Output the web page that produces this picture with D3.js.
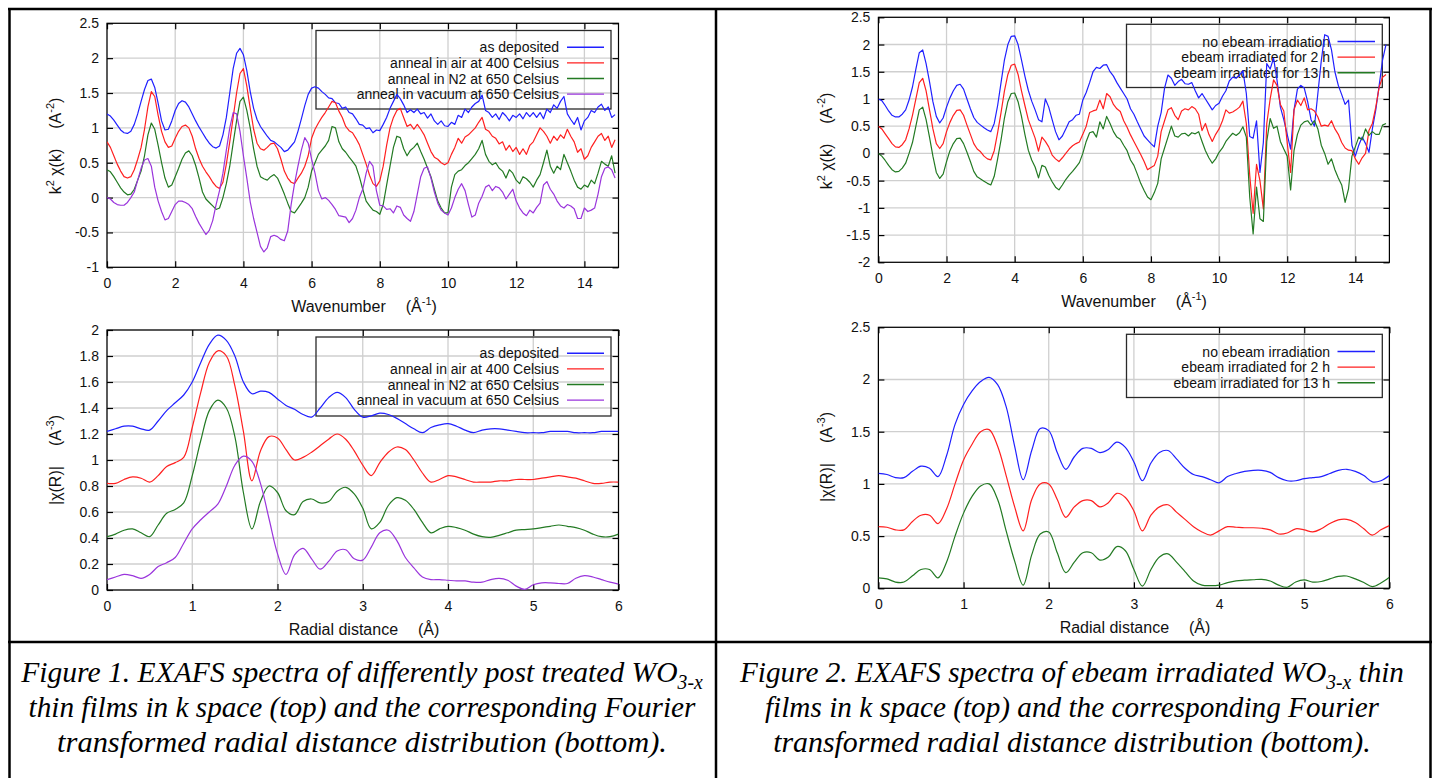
<!DOCTYPE html>
<html>
<head>
<meta charset="utf-8">
<script src="https://cdn.jsdelivr.net/npm/d3@7"></script>
<style>
  body { margin: 0; background: #fff; }
  svg { display: block; }
  text { font-family: "Liberation Sans", Arial, sans-serif; fill: #111; }
  .caption { font-family: "Liberation Serif", "Times New Roman", serif; font-style: italic; fill: #000; }
</style>
</head>
<body>
<svg id="chart" width="1440" height="778"></svg>
<script>
// sample spacing of the spectra
const kStep = 0.1;
const rStep = 0.1;

// Figure 1, k space (k = 0 .. 14.9)
const kAsDeposited = [
  1.20, 1.17, 1.11, 1.04, 0.97, 0.93, 0.92, 0.95, 1.05, 1.20,
  1.38, 1.55, 1.68, 1.70, 1.58, 1.35, 1.10, 0.97, 0.98, 1.10,
  1.25, 1.35, 1.39, 1.37, 1.30, 1.20, 1.10, 1.01, 0.93, 0.85,
  0.78, 0.73, 0.71, 0.74, 0.90, 1.15, 1.50, 1.85, 2.07, 2.14,
  2.05, 1.82, 1.52, 1.28, 1.12, 1.02, 0.95, 0.88, 0.82, 0.80,
  0.76, 0.72, 0.66, 0.68, 0.74, 0.80, 0.95, 1.13, 1.32, 1.48,
  1.57, 1.59, 1.57, 1.52, 1.48, 1.43, 1.42, 1.36, 1.35, 1.28,
  1.30, 1.22, 1.20, 1.13, 1.05, 1.04, 0.99, 1.00, 0.93, 0.97,
  0.96, 1.05, 1.15, 1.28, 1.38, 1.48, 1.42, 1.33, 1.22, 1.26,
  1.22, 1.27, 1.20, 1.22, 1.14, 1.20, 1.10, 1.05, 1.10, 1.03,
  1.02, 1.08, 1.05, 1.18, 1.15, 1.27, 1.22, 1.30, 1.35, 1.38,
  1.47, 1.25, 1.22, 1.15, 1.20, 1.12, 1.22, 1.17, 1.10, 1.18,
  1.15, 1.20, 1.13, 1.22, 1.16, 1.22, 1.15, 1.22, 1.13, 1.27,
  1.22, 1.33, 1.28, 1.38, 1.45, 1.20, 1.12, 1.05, 1.15, 0.97,
  1.10, 1.15, 1.25, 1.22, 1.30, 1.34, 1.25, 1.30, 1.15, 1.19
];
const kAirAnneal = [
  0.80, 0.72, 0.60, 0.48, 0.38, 0.30, 0.28, 0.30, 0.40, 0.55,
  0.72, 0.98, 1.30, 1.52, 1.45, 1.18, 0.95, 0.80, 0.72, 0.74,
  0.85, 0.95, 1.02, 1.04, 1.00, 0.88, 0.70, 0.56, 0.45, 0.37,
  0.30, 0.22, 0.16, 0.13, 0.22, 0.48, 0.80, 1.15, 1.50, 1.78,
  1.85, 1.60, 1.28, 0.98, 0.78, 0.70, 0.68, 0.72, 0.77, 0.78,
  0.70, 0.55, 0.38, 0.28, 0.22, 0.20, 0.28, 0.35, 0.45, 0.60,
  0.85, 0.98, 1.07, 1.15, 1.22, 1.30, 1.38, 1.36, 1.24, 1.15,
  1.02, 0.96, 0.93, 0.85, 0.76, 0.62, 0.48, 0.32, 0.20, 0.16,
  0.24, 0.45, 0.75, 1.00, 1.15, 1.25, 1.28, 1.15, 1.02, 1.05,
  0.98, 1.05, 0.98, 0.90, 0.78, 0.66, 0.58, 0.55, 0.50, 0.47,
  0.50, 0.62, 0.72, 0.85, 0.78, 0.87, 0.90, 0.95, 1.00, 1.08,
  1.15, 0.98, 0.95, 0.88, 0.85, 0.77, 0.80, 0.68, 0.75, 0.66,
  0.72, 0.62, 0.70, 0.62, 0.75, 0.80, 0.90, 1.00, 0.95, 0.88,
  0.78, 0.88, 0.82, 0.90, 0.85, 0.98, 0.88, 0.80, 0.65, 0.70,
  0.55, 0.60, 0.72, 0.80, 0.88, 0.92, 0.82, 0.88, 0.72, 0.83
];
const kN2Anneal = [
  0.40, 0.37, 0.30, 0.22, 0.14, 0.08, 0.04, 0.05, 0.12, 0.25,
  0.38, 0.60, 0.90, 1.07, 0.98, 0.75, 0.50, 0.28, 0.15, 0.18,
  0.30, 0.42, 0.55, 0.64, 0.67, 0.60, 0.46, 0.28, 0.08, -0.02,
  -0.07, -0.12, -0.17, -0.15, 0.00, 0.20, 0.45, 0.78, 1.10, 1.38,
  1.44, 1.25, 1.00, 0.70, 0.45, 0.30, 0.27, 0.25, 0.30, 0.33,
  0.28, 0.17, 0.05, -0.08, -0.20, -0.22, -0.15, -0.08, 0.00, 0.15,
  0.38, 0.50, 0.62, 0.68, 0.74, 0.82, 1.02, 1.00, 0.80, 0.70,
  0.65, 0.58, 0.52, 0.45, 0.30, 0.12, -0.05, -0.12, -0.18, -0.20,
  -0.24, -0.10, 0.18, 0.45, 0.72, 0.88, 0.86, 0.70, 0.60, 0.68,
  0.72, 0.78, 0.66, 0.55, 0.42, 0.30, 0.12, -0.05, -0.15, -0.22,
  -0.22, 0.15, 0.33, 0.38, 0.40, 0.46, 0.50, 0.56, 0.62, 0.70,
  0.82, 0.62, 0.52, 0.47, 0.50, 0.42, 0.38, 0.28, 0.40, 0.35,
  0.25, 0.20, 0.30, 0.27, 0.22, 0.15, 0.25, 0.33, 0.50, 0.68,
  0.45, 0.35, 0.45, 0.40, 0.62, 0.50, 0.38, 0.25, 0.15, 0.12,
  0.18, 0.15, 0.25, 0.20, 0.35, 0.52, 0.48, 0.45, 0.60, 0.35
];
const kVacuumAnneal = [
  0.00, -0.02, -0.07, -0.10, -0.11, -0.11, -0.07, 0.00, 0.08, 0.25,
  0.42, 0.54, 0.56, 0.45, 0.15, -0.05, -0.20, -0.32, -0.30, -0.20,
  -0.10, -0.05, -0.05, -0.07, -0.10, -0.16, -0.27, -0.37, -0.45, -0.53,
  -0.47, -0.33, -0.10, 0.10, 0.35, 0.68, 1.00, 1.22, 1.20, 0.95,
  0.60, 0.28, -0.06, -0.30, -0.50, -0.70, -0.78, -0.72, -0.56, -0.54,
  -0.56, -0.60, -0.62, -0.48, -0.10, 0.20, 0.45, 0.68, 0.86, 0.78,
  0.55, 0.35, 0.10, -0.02, 0.00, -0.04, -0.10, -0.17, -0.26, -0.27,
  -0.28, -0.36, -0.30, -0.18, 0.00, 0.12, 0.35, 0.52, 0.45, 0.10,
  -0.11, -0.12, -0.17, -0.16, -0.22, -0.12, -0.14, -0.25, -0.30, -0.34,
  -0.20, 0.05, 0.30, 0.42, 0.44, 0.28, 0.08, -0.08, -0.18, -0.22,
  -0.25, -0.15, 0.00, 0.12, 0.20, 0.10, -0.10, -0.28, -0.25, -0.08,
  0.02, 0.15, 0.18, 0.10, 0.16, 0.14, 0.08, -0.02, 0.05, 0.12,
  -0.05, -0.15, -0.22, -0.26, -0.18, -0.22, -0.14, -0.08, 0.18, 0.23,
  0.12, 0.05, -0.05, -0.12, -0.15, -0.10, -0.12, -0.16, -0.30, -0.30,
  -0.15, -0.20, -0.18, -0.15, 0.05, 0.30, 0.42, 0.44, 0.40, 0.28
];

// Figure 2, k space (k = 0 .. 14.9)
const kNoEbeam = [
  1.00, 0.97, 0.88, 0.78, 0.70, 0.67, 0.67, 0.72, 0.80, 0.98,
  1.22, 1.55, 1.85, 1.90, 1.65, 1.32, 0.95, 0.68, 0.56, 0.65,
  0.85, 1.02, 1.15, 1.25, 1.27, 1.18, 1.00, 0.82, 0.66, 0.57,
  0.52, 0.47, 0.43, 0.40, 0.55, 0.88, 1.30, 1.72, 2.00, 2.15,
  2.16, 2.00, 1.72, 1.42, 1.16, 0.96, 0.80, 0.62, 0.58, 1.00,
  0.85, 0.62, 0.40, 0.25, 0.32, 0.45, 0.58, 0.62, 0.70, 0.72,
  0.98, 1.12, 1.30, 1.50, 1.58, 1.56, 1.62, 1.63, 1.50, 1.42,
  1.30, 1.20, 1.10, 1.00, 0.82, 0.72, 0.58, 0.45, 0.32, 0.25,
  0.18, 0.12, 0.50, 0.75, 1.20, 1.44, 1.38, 1.25, 1.32, 1.36,
  1.28, 1.27, 1.30, 1.15, 1.02, 1.10, 1.00, 0.90, 0.80, 0.88,
  0.92, 1.05, 1.15, 1.33, 1.40, 1.38, 1.44, 1.52, 1.10, 0.31,
  0.28, 0.60, -0.35, 0.20, 1.65, 1.55, 1.75, 1.35, 0.85, 0.62,
  0.35, 0.08, 0.80, 1.18, 1.25, 1.20, 0.95, 0.62, 0.50, 1.10,
  1.70, 2.18, 2.15, 1.90, 1.50, 1.25, 1.08, 0.90, 0.98, 0.15,
  -0.05, 0.15, 0.30, 0.18, 0.02, 0.45, 0.80, 1.25, 1.72, 2.00
];
const kEbeam2h = [
  0.50, 0.45, 0.36, 0.27, 0.18, 0.12, 0.11, 0.16, 0.25, 0.45,
  0.70, 1.00, 1.30, 1.38, 1.15, 0.80, 0.45, 0.18, 0.09, 0.18,
  0.40, 0.57, 0.70, 0.79, 0.80, 0.70, 0.52, 0.35, 0.18, 0.08,
  0.03, -0.05, -0.10, -0.12, 0.05, 0.38, 0.75, 1.15, 1.45, 1.62,
  1.64, 1.45, 1.15, 0.88, 0.62, 0.45, 0.28, 0.04, 0.30, 0.22,
  0.12, -0.03, -0.10, -0.15, -0.08, 0.00, 0.08, 0.14, 0.18, 0.21,
  0.35, 0.50, 0.75, 0.78, 0.80, 0.98, 0.82, 1.10, 1.04, 0.90,
  0.82, 0.77, 0.60, 0.48, 0.34, 0.22, 0.10, -0.02, -0.15, -0.30,
  -0.26, -0.22, -0.05, 0.40, 0.60, 0.80, 0.84, 0.70, 0.62, 0.78,
  0.82, 0.80, 0.86, 0.82, 0.72, 0.42, 0.55, 0.35, 0.22, 0.35,
  0.45, 0.60, 0.80, 0.74, 0.76, 0.80, 0.85, 0.96, 0.55, -0.40,
  -1.10, -0.20, -0.50, -1.02, 0.55, 1.00, 1.35, 1.25, 0.90, 0.78,
  0.20, -0.35, 0.80, 0.98, 0.88, 1.02, 0.80, 0.82, 0.78, 0.67,
  0.50, 0.52, 0.50, 0.60, 0.45, 0.35, 0.20, 0.10, 0.06, 0.05,
  -0.10, -0.20, -0.08, 0.00, 0.42, 0.55, 0.85, 1.22, 1.40, 1.45
];
const kEbeam13h = [
  0.00, -0.05, -0.13, -0.22, -0.30, -0.34, -0.33, -0.27, -0.18, 0.00,
  0.20, 0.50, 0.80, 0.85, 0.62, 0.30, -0.05, -0.35, -0.46, -0.38,
  -0.15, 0.05, 0.18, 0.27, 0.28, 0.18, 0.02, -0.15, -0.33, -0.43,
  -0.47, -0.51, -0.55, -0.58, -0.42, -0.10, 0.25, 0.65, 0.95, 1.10,
  1.11, 0.95, 0.68, 0.35, 0.06, -0.12, -0.25, -0.45, -0.22, -0.25,
  -0.40, -0.52, -0.62, -0.67, -0.58, -0.48, -0.40, -0.33, -0.25, -0.17,
  0.00, 0.22, 0.38, 0.40, 0.30, 0.58, 0.45, 0.68, 0.55, 0.40,
  0.30, 0.26, 0.15, 0.05, -0.12, -0.22, -0.38, -0.55, -0.68, -0.80,
  -0.85, -0.72, -0.55, -0.10, 0.10, 0.30, 0.50, 0.32, 0.30, 0.36,
  0.37, 0.32, 0.38, 0.36, 0.40, 0.22, 0.05, -0.08, -0.18, -0.10,
  0.02, 0.10, 0.22, 0.30, 0.37, 0.33, 0.38, 0.49, 0.30, -0.80,
  -1.48, -0.62, -1.20, -1.25, 0.22, 0.64, 0.46, 0.50, 0.22, 0.08,
  -0.05, -0.67, 0.05, 0.35, 0.52, 0.58, 0.60, 0.52, 0.60, 0.45,
  0.15, 0.00, -0.20, -0.10, -0.30, -0.45, -0.58, -0.90, -0.65, -0.05,
  0.12, 0.30, 0.25, 0.45, 0.33, 0.40, 0.35, 0.35, 0.52, 0.55
];

// Figure 1, R space (R = 0 .. 6)
const rAsDeposited = [
  1.22, 1.24, 1.26, 1.26, 1.24, 1.23, 1.30, 1.38, 1.44, 1.50,
  1.60, 1.75, 1.89, 1.96, 1.92, 1.80, 1.60, 1.51, 1.53, 1.52,
  1.47, 1.42, 1.39, 1.35, 1.33, 1.40, 1.48, 1.52, 1.48, 1.39,
  1.33, 1.34, 1.36, 1.35, 1.32, 1.28, 1.24, 1.21, 1.25, 1.27,
  1.28, 1.26, 1.23, 1.21, 1.23, 1.24, 1.24, 1.23, 1.22, 1.21,
  1.21, 1.21, 1.22, 1.22, 1.22, 1.21, 1.21, 1.21, 1.22, 1.22,
  1.22
];
const rAirAnneal = [
  0.82, 0.82, 0.85, 0.87, 0.86, 0.83, 0.88, 0.95, 0.98, 1.02,
  1.25, 1.52, 1.75, 1.84, 1.80, 1.57, 1.22, 0.84, 1.07, 1.18,
  1.17, 1.08, 1.00, 1.02, 1.06, 1.11, 1.16, 1.20, 1.16, 1.07,
  0.96, 0.88, 0.98, 1.06, 1.10, 1.08, 1.00, 0.90, 0.83, 0.85,
  0.88, 0.87, 0.85, 0.83, 0.83, 0.83, 0.84, 0.84, 0.85, 0.85,
  0.85, 0.86, 0.87, 0.88, 0.87, 0.86, 0.84, 0.82, 0.82, 0.83,
  0.83
];
const rN2Anneal = [
  0.41, 0.43, 0.46, 0.47, 0.44, 0.41, 0.50, 0.59, 0.62, 0.67,
  0.88, 1.15, 1.38, 1.46, 1.40, 1.18, 0.75, 0.47, 0.68, 0.80,
  0.75, 0.61, 0.58, 0.68, 0.70, 0.67, 0.68, 0.76, 0.79, 0.74,
  0.63, 0.47, 0.52, 0.65, 0.71, 0.69, 0.62, 0.52, 0.44, 0.47,
  0.49, 0.48, 0.46, 0.43, 0.41, 0.405, 0.42, 0.44, 0.46, 0.465,
  0.47, 0.48, 0.49, 0.50, 0.49, 0.48, 0.46, 0.43, 0.41, 0.41,
  0.43
];
const rVacuumAnneal = [
  0.08, 0.10, 0.12, 0.11, 0.09, 0.12, 0.18, 0.21, 0.25, 0.36,
  0.47, 0.54, 0.60, 0.66, 0.80, 0.96, 1.03, 0.99, 0.82, 0.55,
  0.28, 0.12, 0.27, 0.32, 0.24, 0.16, 0.22, 0.30, 0.31, 0.24,
  0.23, 0.33, 0.44, 0.46, 0.38, 0.25, 0.17, 0.10, 0.08, 0.08,
  0.075, 0.07, 0.07, 0.06, 0.06, 0.08, 0.09, 0.075, 0.03, 0.005,
  0.04, 0.055, 0.055, 0.05, 0.05, 0.09, 0.11, 0.10, 0.08, 0.06,
  0.045
];

// Figure 2, R space (R = 0 .. 6)
const rNoEbeam = [
  1.10, 1.09, 1.06, 1.06, 1.12, 1.17, 1.15, 1.07, 1.27, 1.57,
  1.76, 1.89, 1.98, 2.02, 1.95, 1.74, 1.36, 1.04, 1.32, 1.53,
  1.51, 1.30, 1.14, 1.26, 1.34, 1.34, 1.30, 1.33, 1.40, 1.35,
  1.21, 1.03, 1.20, 1.30, 1.32, 1.24, 1.15, 1.09, 1.07, 1.04,
  1.01, 1.07, 1.10, 1.12, 1.13, 1.13, 1.11, 1.06, 1.03, 1.03,
  1.05, 1.06, 1.07, 1.10, 1.13, 1.14, 1.12, 1.08, 1.02, 1.03,
  1.08
];
const rEbeam2h = [
  0.59, 0.585, 0.56, 0.56, 0.64, 0.70, 0.70, 0.62, 0.76, 1.00,
  1.23, 1.38, 1.50, 1.52, 1.36, 1.08, 0.78, 0.55, 0.85, 1.00,
  1.00, 0.85, 0.68, 0.78, 0.84, 0.84, 0.78, 0.82, 0.91, 0.87,
  0.74, 0.55, 0.70, 0.78, 0.80, 0.73, 0.66, 0.59, 0.54, 0.51,
  0.55, 0.59, 0.585, 0.58, 0.58, 0.575, 0.56, 0.52, 0.53, 0.57,
  0.56, 0.54, 0.57, 0.62, 0.655, 0.66, 0.63, 0.57, 0.51, 0.56,
  0.60
];
const rEbeam13h = [
  0.10, 0.09, 0.06, 0.06, 0.12, 0.18, 0.18, 0.10, 0.25, 0.50,
  0.72, 0.88, 0.98, 1.00, 0.85, 0.55, 0.26, 0.03, 0.32, 0.52,
  0.54, 0.34, 0.15, 0.25, 0.34, 0.34, 0.27, 0.30, 0.40, 0.36,
  0.18, 0.02, 0.18, 0.30, 0.33, 0.25, 0.16, 0.07, 0.03, 0.025,
  0.03, 0.055, 0.072, 0.078, 0.082, 0.086, 0.07, 0.03, 0.01, 0.06,
  0.08, 0.06, 0.065, 0.09, 0.115, 0.118, 0.09, 0.055, 0.016, 0.05,
  0.105
];

// ticks
const kTicks = [0, 2, 4, 6, 8, 10, 12, 14];
const rTicks = [0, 1, 2, 3, 4, 5, 6];
const kTicksFig1 = [-1, -0.5, 0, 0.5, 1, 1.5, 2, 2.5];
const rTicksFig1 = [0, 0.2, 0.4, 0.6, 0.8, 1, 1.2, 1.4, 1.6, 1.8, 2];
const kTicksFig2 = [-2, -1.5, -1, -0.5, 0, 0.5, 1, 1.5, 2, 2.5];
const rTicksFig2 = [0, 0.5, 1, 1.5, 2, 2.5];

// legends
const annealNames = ["as deposited", "anneal in air at 400 Celsius", "anneal in N2 at 650 Celsius", "anneal in vacuum at 650 Celsius"];
const ebeamNames = ["no ebeam irradiation", "ebeam irradiated for 2 h", "ebeam irradiated for 13 h"];
const annealColors = ["#2020ff", "#ff2020", "#237a23", "#9a35dc"];
const ebeamColors = ["#2020ff", "#ff2020", "#237a23"];

const fig1Caption = [
  "Figure 1. EXAFS spectra of differently post treated WO3-x",
  "thin films in k space (top) and the corresponding Fourier",
  "transformed radial distance distribution (bottom)."
];
const fig2Caption = [
  "Figure 2. EXAFS spectra of ebeam irradiated WO3-x thin",
  "films in k space (top) and the corresponding Fourier",
  "transformed radial distance distribution (bottom)."
];

const svg = d3.select("#chart");
svg.append("rect").attr("width", 1440).attr("height", 778).attr("fill", "#fff");

// rich text with sup parts: parts = [{t, sup, dx}]
function richText(sel, parts, supSize) {
  let shifted = false;
  parts.forEach(p => {
    const ts = sel.append("tspan").text(p.t);
    if (p.dx) ts.attr("dx", p.dx);
    if (p.sup) {
      ts.attr("dy", -7).style("font-size", supSize + "px");
      shifted = true;
    } else if (shifted) {
      ts.attr("dy", 7);
      shifted = false;
    }
  });
}

function drawPanel(p) {
  const g = svg.append("g");
  const x = d3.scaleLinear().domain(p.xDomain).range([p.left, p.right]);
  const y = d3.scaleLinear().domain(p.yDomain).range([p.bottom, p.top]);

  // grid
  g.append("g").selectAll("line").data(p.xTicks).join("line")
    .attr("x1", d => x(d)).attr("x2", d => x(d))
    .attr("y1", p.top).attr("y2", p.bottom)
    .attr("stroke", "#cfcfcf").attr("stroke-width", 1.3);
  g.append("g").selectAll("line").data(p.yTicks).join("line")
    .attr("y1", d => y(d)).attr("y2", d => y(d))
    .attr("x1", p.left).attr("x2", p.right)
    .attr("stroke", "#cfcfcf").attr("stroke-width", 1.3);

  // axes with inward ticks, mirrored on top/right
  const fmt = d => String(+d.toFixed(2));
  g.append("g").attr("transform", `translate(0,${p.bottom})`)
    .call(d3.axisBottom(x).tickValues(p.xTicks).tickFormat(fmt).tickSizeInner(-6).tickSizeOuter(0).tickPadding(11));
  g.append("g").attr("transform", `translate(${p.left},0)`)
    .call(d3.axisLeft(y).tickValues(p.yTicks).tickFormat(fmt).tickSizeInner(-6).tickSizeOuter(0).tickPadding(8));
  g.append("g").attr("transform", `translate(0,${p.top})`)
    .call(d3.axisTop(x).tickValues(p.xTicks).tickFormat("").tickSizeInner(-6).tickSizeOuter(0));
  g.append("g").attr("transform", `translate(${p.right},0)`)
    .call(d3.axisRight(y).tickValues(p.yTicks).tickFormat("").tickSizeInner(-6).tickSizeOuter(0));
  g.selectAll(".domain").remove();
  g.selectAll(".tick line").attr("stroke", "#000").attr("stroke-width", 1.2);
  g.selectAll(".tick text").style("font-size", "14px").attr("fill", "#111");

  // legend (under the curves)
  const L = p.legend;
  g.append("rect").attr("x", L.x1).attr("y", L.y1).attr("width", L.x2 - L.x1).attr("height", L.y2 - L.y1)
    .attr("fill", "none").attr("stroke", "#2a2a2a").attr("stroke-width", 1.3);
  p.names.forEach((name, i) => {
    const ry = L.rowY + i * L.rowGap;
    g.append("text").attr("x", L.textRight).attr("y", ry).attr("dy", "0.36em")
      .attr("text-anchor", "end").style("font-size", "14px").text(name);
    g.append("line").attr("x1", L.lineX1).attr("x2", L.lineX2).attr("y1", ry).attr("y2", ry)
      .attr("stroke", p.colors[i]).attr("stroke-width", 1.4);
  });

  // frame
  g.append("rect").attr("x", p.left).attr("y", p.top).attr("width", p.right - p.left).attr("height", p.bottom - p.top)
    .attr("fill", "none").attr("stroke", "#000").attr("stroke-width", 1.2);

  // curves
  const clipId = "clip" + p.id;
  svg.append("clipPath").attr("id", clipId).append("rect")
    .attr("x", p.left).attr("y", p.top).attr("width", p.right - p.left).attr("height", p.bottom - p.top);
  const line = d3.line().x((d, i) => x(i * p.step)).y(d => y(d)).curve(p.curve);
  const cg = g.append("g").attr("clip-path", `url(#${clipId})`);
  p.series.forEach((s, i) => {
    cg.append("path").datum(s).attr("d", line)
      .attr("fill", "none").attr("stroke", p.colors[i]).attr("stroke-width", 1.2)
      .attr("stroke-linejoin", "round");
  });

  // axis titles
  const xt = g.append("text").attr("x", p.xTitleX).attr("y", p.xTitleY).attr("text-anchor", "middle").style("font-size", "16px");
  richText(xt, p.xTitle, 11);
  const yt = g.append("text").attr("transform", `translate(${p.yTitleX},${p.yTitleY}) rotate(-90)`)
    .attr("text-anchor", "middle").style("font-size", "16px");
  richText(yt, p.yTitle, 11);
}

const kYTitle = [{ t: "k" }, { t: "2", sup: true }, { t: " \u03c7(k)" }, { t: "(A", dx: 20 }, { t: "-2", sup: true }, { t: ")" }];
const rYTitle = [{ t: "|\u03c7(R)|" }, { t: "(A", dx: 20 }, { t: "-3", sup: true }, { t: ")" }];
const kXTitle = [{ t: "Wavenumber" }, { t: "(\u00c5", dx: 20 }, { t: "-1", sup: true }, { t: ")" }];
const rXTitle = [{ t: "Radial distance" }, { t: "(\u00c5)", dx: 20 }];

drawPanel({
  id: "a", left: 107, right: 618.5, top: 23.3, bottom: 267.3,
  xDomain: [0, 15], yDomain: [-1, 2.5], xTicks: kTicks, yTicks: kTicksFig1,
  series: [kAsDeposited, kAirAnneal, kN2Anneal, kVacuumAnneal], step: kStep, curve: d3.curveLinear,
  names: annealNames, colors: annealColors,
  legend: { x1: 316, y1: 30.5, x2: 611, y2: 109, rowY: 47.3, rowGap: 15.6, textRight: 559, lineX1: 567, lineX2: 604 },
  xTitle: kXTitle, xTitleX: 364, xTitleY: 312, yTitle: kYTitle, yTitleX: 61, yTitleY: 146
});
drawPanel({
  id: "b", left: 107, right: 618.5, top: 330, bottom: 590,
  xDomain: [0, 6], yDomain: [0, 2], xTicks: rTicks, yTicks: rTicksFig1,
  series: [rAsDeposited, rAirAnneal, rN2Anneal, rVacuumAnneal], step: rStep, curve: d3.curveCatmullRom.alpha(0.5),
  names: annealNames, colors: annealColors,
  legend: { x1: 316, y1: 337, x2: 611, y2: 416, rowY: 353.3, rowGap: 15.6, textRight: 559, lineX1: 567, lineX2: 604 },
  xTitle: rXTitle, xTitleX: 364, xTitleY: 635, yTitle: rYTitle, yTitleX: 61, yTitleY: 460
});
drawPanel({
  id: "c", left: 878.4, right: 1389.4, top: 17.3, bottom: 262.3,
  xDomain: [0, 15], yDomain: [-2, 2.5], xTicks: kTicks, yTicks: kTicksFig2,
  series: [kNoEbeam, kEbeam2h, kEbeam13h], step: kStep, curve: d3.curveLinear,
  names: ebeamNames, colors: ebeamColors,
  legend: { x1: 1126.5, y1: 24.3, x2: 1382.3, y2: 87.5, rowY: 41.5, rowGap: 15.6, textRight: 1330, lineX1: 1337.5, lineX2: 1375 },
  xTitle: kXTitle, xTitleX: 1134, xTitleY: 307, yTitle: kYTitle, yTitleX: 832, yTitleY: 141
});
drawPanel({
  id: "d", left: 878.4, right: 1389.4, top: 327.3, bottom: 588.3,
  xDomain: [0, 6], yDomain: [0, 2.5], xTicks: rTicks, yTicks: rTicksFig2,
  series: [rNoEbeam, rEbeam2h, rEbeam13h], step: rStep, curve: d3.curveCatmullRom.alpha(0.5),
  names: ebeamNames, colors: ebeamColors,
  legend: { x1: 1126.5, y1: 334.3, x2: 1382.3, y2: 397.5, rowY: 351.5, rowGap: 15.6, textRight: 1330, lineX1: 1337.5, lineX2: 1375 },
  xTitle: rXTitle, xTitleX: 1135, xTitleY: 633, yTitle: rYTitle, yTitleX: 832, yTitleY: 457
});

// table lines
const border = svg.append("g").attr("stroke", "#000").attr("stroke-width", 2.5);
border.append("line").attr("x1", 8).attr("x2", 1432).attr("y1", 9).attr("y2", 9);
border.append("line").attr("x1", 9.5).attr("x2", 9.5).attr("y1", 8).attr("y2", 778);
border.append("line").attr("x1", 1430.5).attr("x2", 1430.5).attr("y1", 8).attr("y2", 778);
border.append("line").attr("x1", 716).attr("x2", 716).attr("y1", 8).attr("y2", 778);
border.append("line").attr("x1", 8).attr("x2", 1432).attr("y1", 642).attr("y2", 642);

// captions, each line stretched to the width it takes in the figure
function drawCaption(lines, cx, widths) {
  const ys = [682, 717, 752];
  lines.forEach((ln, i) => {
    const t = svg.append("text").attr("class", "caption").attr("x", cx).attr("y", ys[i])
      .attr("text-anchor", "middle").style("font-size", "30px");
    const m = ln.split(/(3-x)/);
    let sub = false;
    m.forEach(part => {
      if (!part) return;
      const ts = t.append("tspan").text(part);
      if (part === "3-x") { ts.attr("dy", 7).style("font-size", "20px"); sub = true; }
      else if (sub) { ts.attr("dy", -7); sub = false; }
    });
    const w = t.node().getComputedTextLength();
    const s = widths[i] / w;
    t.attr("transform", `translate(${cx},0) scale(${s},1) translate(${-cx},0)`);
  });
}
drawCaption(fig1Caption, 362, [682, 667, 610]);
drawCaption(fig2Caption, 1072, [664, 614, 598]);
</script>
</body>
</html>
